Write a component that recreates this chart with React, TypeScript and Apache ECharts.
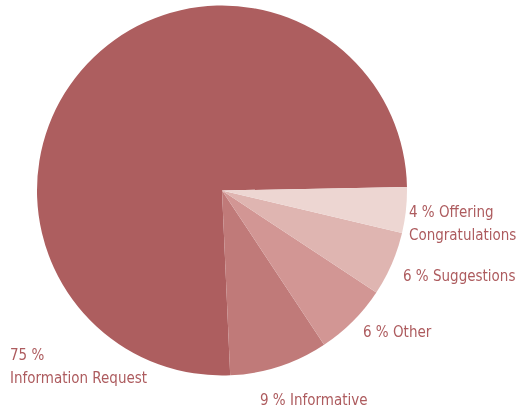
import React, { useEffect, useRef } from "react";
import * as echarts from "echarts";

const categories = ["Information Request", "Informative", "Other", "Suggestions", "Offering\nCongratulations"];
const values = [75.4, 8.6, 6.4, 5.6, 4.0];
const colors = ["#ad5e5f", "#c07a79", "#d29694", "#dfb5b1", "#edd6d2"];
const separators = ["\n", " ", " ", " ", " "];
const labelPos = [
  [10, 343],
  [260, 388],
  [363, 320],
  [403, 264],
  [409, 200],
];

export default function App() {
  const ref = useRef<HTMLDivElement>(null);
  useEffect(() => {
    document.body.style.margin = "0";
    const chart = echarts.init(ref.current!, null, { renderer: "svg" });
    chart.setOption({
      animation: false,
      series: [
        {
          type: "pie",
          center: [222, 190.5],
          radius: [0, 185],
          startAngle: 1.1,
          clockwise: false,
          avoidLabelOverlap: false,
          itemStyle: { borderWidth: 0 },
          label: {
            show: true,
            position: "outside",
            color: "#ad5b5e",
            fontFamily: "'DejaVu Sans Condensed', 'Liberation Sans Narrow', sans-serif",
            fontSize: 15,
            lineHeight: 23,
            overflow: "none",
            formatter: (p: any) => `${Math.round(p.value)} %${separators[p.dataIndex]}${p.name}`,
          },
          labelLine: { show: false },
          labelLayout: (p: any) => ({
            x: labelPos[p.dataIndex][0],
            y: labelPos[p.dataIndex][1],
            align: "left",
            verticalAlign: "top",
          }),
          data: categories.map((c, i) => ({
            name: c,
            value: values[i],
            itemStyle: { color: colors[i] },
          })),
        },
      ],
    });
    return () => chart.dispose();
  }, []);
  return <div ref={ref} style={{ position: "fixed", left: 0, top: 0, width: 519, height: 414 }} />;
}
